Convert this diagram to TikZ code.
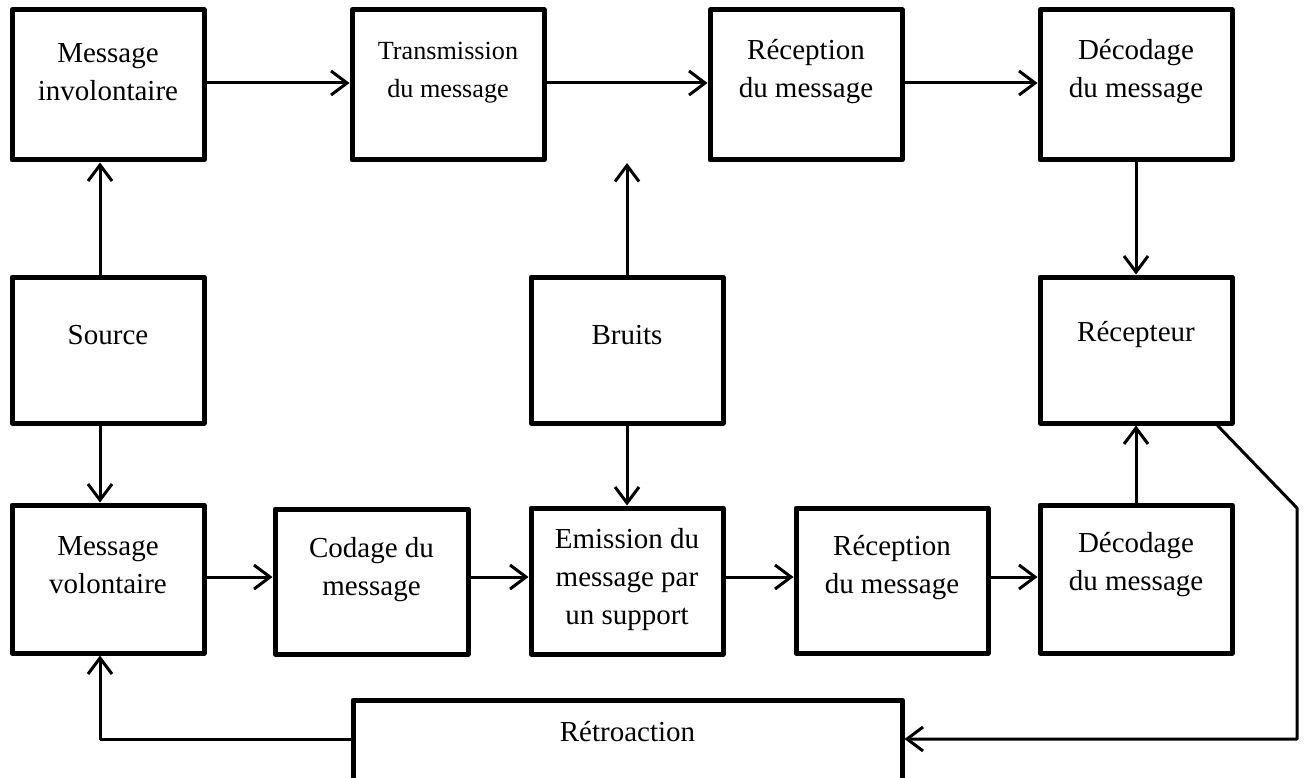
\documentclass[tikz,border=0pt]{standalone}
\usepackage{fontspec}
\setmainfont{Liberation Serif}
\usetikzlibrary{arrows.meta}
\begin{document}
\begin{tikzpicture}[x=1pt,y=-1pt,
  box/.style={draw, line width=5pt, line join=round, inner sep=0pt, minimum width=192pt},
  lbl/.style={align=center, inner sep=0pt, font=\fontsize{29}{38}\selectfont},
  lblsmall/.style={lbl, font=\fontsize{26.2}{38}\selectfont},
  flow/.style={line width=3pt, line join=round, -{Straight Barb[length=16pt,width=24pt]}},
  wire/.style={line width=3pt, line join=round}]
\useasboundingbox (0,0) rectangle (1304,778);
\clip (0,0) rectangle (1304,778);

% top row
\node[box, minimum height=150pt] (minv) at (108,85) {};
\node[lbl] (minvT) at ([yshift=13pt]minv.center) {Message\\involontaire};
\node[box, minimum height=150pt] (trans) at (448,85) {};
\node[lblsmall] (transT) at ([yshift=12pt]trans.center) {Transmission\\du message};
\node[box, minimum height=150pt] (recT) at (806,85) {};
\node[lbl] (recTT) at ([yshift=13pt]recT.center) {Réception\\du message};
\node[box, minimum height=150pt] (decT) at (1136,85) {};
\node[lbl] (decTT) at ([yshift=13pt]decT.center) {Décodage\\du message};

% middle row
\node[box, minimum height=146pt] (src) at (108,350) {};
\node[lbl] (srcT) at ([yshift=15pt]src.center) {Source};
\node[box, minimum height=146pt] (bruits) at (627,350) {};
\node[lbl] (bruitsT) at ([yshift=15pt]bruits.center) {Bruits};
\node[box, minimum height=146pt] (recep) at (1136,350) {};
\node[lbl] (recepT) at ([yshift=15pt]recep.center) {Récepteur};

% bottom row
\node[box, minimum height=148pt] (mvol) at (108,579) {};
\node[lbl] (mvolT) at ([yshift=14pt]mvol.center) {Message\\volontaire};
\node[box, minimum width=193pt, minimum height=145pt] (cod) at (371.5,581.5) {};
\node[lbl] (codT) at ([yshift=12pt]cod.center) {Codage du\\message};
\node[box, minimum height=146pt] (emis) at (627,581) {};
\node[lbl] (emisT) at ([yshift=1pt]emis.center) {Emission du\\message par\\un support};
\node[box, minimum height=145pt] (recB) at (892,580.5) {};
\node[lbl] (recBT) at ([yshift=13pt]recB.center) {Réception\\du message};
\node[box, minimum height=148pt] (decB) at (1136,579) {};
\node[lbl] (decBT) at ([yshift=14pt]decB.center) {Décodage\\du message};

% feedback box
\node[box, minimum width=549pt, minimum height=86pt] (retro) at (627.5,743) {};
\node[lbl] (retroT) at (627.5,732) {Rétroaction};

% levels of the chains, free ends and bends
\coordinate (top) at (0,83);
\coordinate (low) at (0,577);
\coordinate (nz) at (627,163);
\coordinate (kink) at (1297,508);
\coordinate (fbR) at (1297,739);
\coordinate (fbL) at (100,739);

% upper chain
\draw[flow] (minv.east |- top) -- (trans.west |- top);
\draw[flow] (trans.east |- top) -- (recT.west |- top);
\draw[flow] (recT.east |- top) -- (decT.west |- top);
\draw[flow] (decT) -- (recep);

% source branches
\draw[flow] ([xshift=-8pt]src.north) -- ([xshift=-8pt]minv.south);
\draw[flow] ([xshift=-8pt]src.south) -- ([xshift=-8pt]mvol.north);

% noise
\draw[flow] (bruits.north) -- (nz);
\draw[flow] (bruits.south) -- (emis.north);

% lower chain
\draw[flow] (mvol.east |- low) -- (cod.west |- low);
\draw[flow] (cod.east |- low) -- (emis.west |- low);
\draw[flow] (emis.east |- low) -- (recB.west |- low);
\draw[flow] (recB.east |- low) -- (decB.west |- low);
\draw[flow] (decB.north) -- (recep.south);

% feedback loop
\draw[flow] ([xshift=-17pt]recep.south east) -- (kink) -- (fbR) -- (fbR -| retro.east);
\draw[flow] (fbL -| retro.west) -- (fbL) -- ([xshift=-8pt]mvol.south);
\end{tikzpicture}
\end{document}
